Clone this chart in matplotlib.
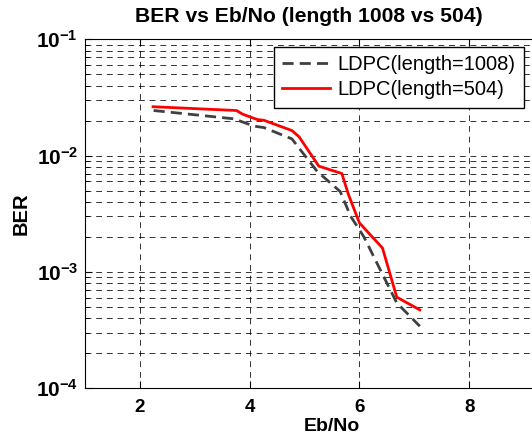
import numpy as np
import matplotlib.pyplot as plt
from matplotlib.ticker import FixedLocator, LogLocator, NullFormatter

plt.rcParams['font.family'] = ['Liberation Sans', 'DejaVu Sans']
plt.rcParams['mathtext.fontset'] = 'custom'
plt.rcParams['mathtext.bf'] = 'Liberation Sans:bold'
plt.rcParams['mathtext.rm'] = 'Liberation Sans:bold'

# данные
ebno_1008 = [2.25, 3.71, 4.08, 4.26, 4.77, 5.23, 5.65, 5.84, 6.08, 6.68, 7.1]
ber_1008 = [0.0244, 0.0207, 0.0179, 0.0174, 0.0139, 0.0073, 0.0049, 0.0030, 0.0020, 5.4e-4, 3.4e-4]

ebno_504 = [2.24, 3.76, 3.87, 4.14, 4.26, 4.77, 4.9, 5.26, 5.68, 5.8, 6.0, 6.42, 6.68, 7.1]
ber_504 = [0.0263, 0.0244, 0.0227, 0.0204, 0.0201, 0.0164, 0.0145, 0.0081, 0.0070,
           0.00461, 0.00263, 0.0016, 6.05e-4, 4.7e-4]

x_ticks = [2, 4, 6, 8]

W, H = 532, 440
fig = plt.figure(figsize=(W / 100, H / 100), dpi=100)
# ось обрезана справа, как на исходной картинке
ax = fig.add_axes([85 / W, 1 - 388 / H, (579 - 85) / W, (388 - 39.3) / H])

ax.semilogy(ebno_1008, ber_1008, color='#404040', lw=2, ls=(0, (4, 2.2)),
            label='LDPC(length=1008)')
ax.semilogy(ebno_504, ber_504, color='red', lw=2, label='LDPC(length=504)')

ax.set_xlim(1, 10)
ax.set_ylim(1e-4, 1e-1)
ax.xaxis.set_major_locator(FixedLocator(x_ticks))
ax.yaxis.set_minor_locator(LogLocator(base=10, subs=np.arange(2, 10), numticks=10))
ax.yaxis.set_minor_formatter(NullFormatter())
ax.set_yticks([1e-4, 1e-3, 1e-2, 1e-1])
ax.set_yticklabels(['$\\mathbf{10^{-4}}$', '$\\mathbf{10^{-3}}$',
                    '$\\mathbf{10^{-2}}$', '$\\mathbf{10^{-1}}$'])

grid_kw = dict(color='black', lw=0.7, ls=(0, (6, 5)), alpha=0.8)
ax.grid(True, which='major', axis='both', **grid_kw)
ax.grid(True, which='minor', axis='y', **grid_kw)

ax.tick_params(which='both', direction='in', top=True, right=True)
ax.tick_params(which='major', length=5)
ax.tick_params(which='minor', length=3)
ax.tick_params(axis='x', labelsize=13.5, pad=8)
ax.tick_params(axis='y', labelsize=15, pad=5)
for lab in ax.get_xticklabels():
    lab.set_fontweight('bold')

ax.set_xlabel('Eb/No', fontsize=14, fontweight='bold', labelpad=1)
ax.set_ylabel('BER', fontsize=14.5, fontweight='bold', labelpad=4)
fig.text(309 / W, 1 - 17 / H, 'BER vs Eb/No (length 1008 vs 504)',
         ha='center', va='center', fontsize=15.2, fontweight='bold')

ax.legend(loc='upper right', bbox_to_anchor=(524 / W, 1 - 47 / H),
          bbox_transform=fig.transFigure, fontsize=14.5, frameon=True,
          fancybox=False, edgecolor='black', framealpha=1, borderpad=0.42,
          handlelength=2.4, handletextpad=0.35, labelspacing=0.28,
          borderaxespad=0)

fig.savefig('out.png', dpi=100)
